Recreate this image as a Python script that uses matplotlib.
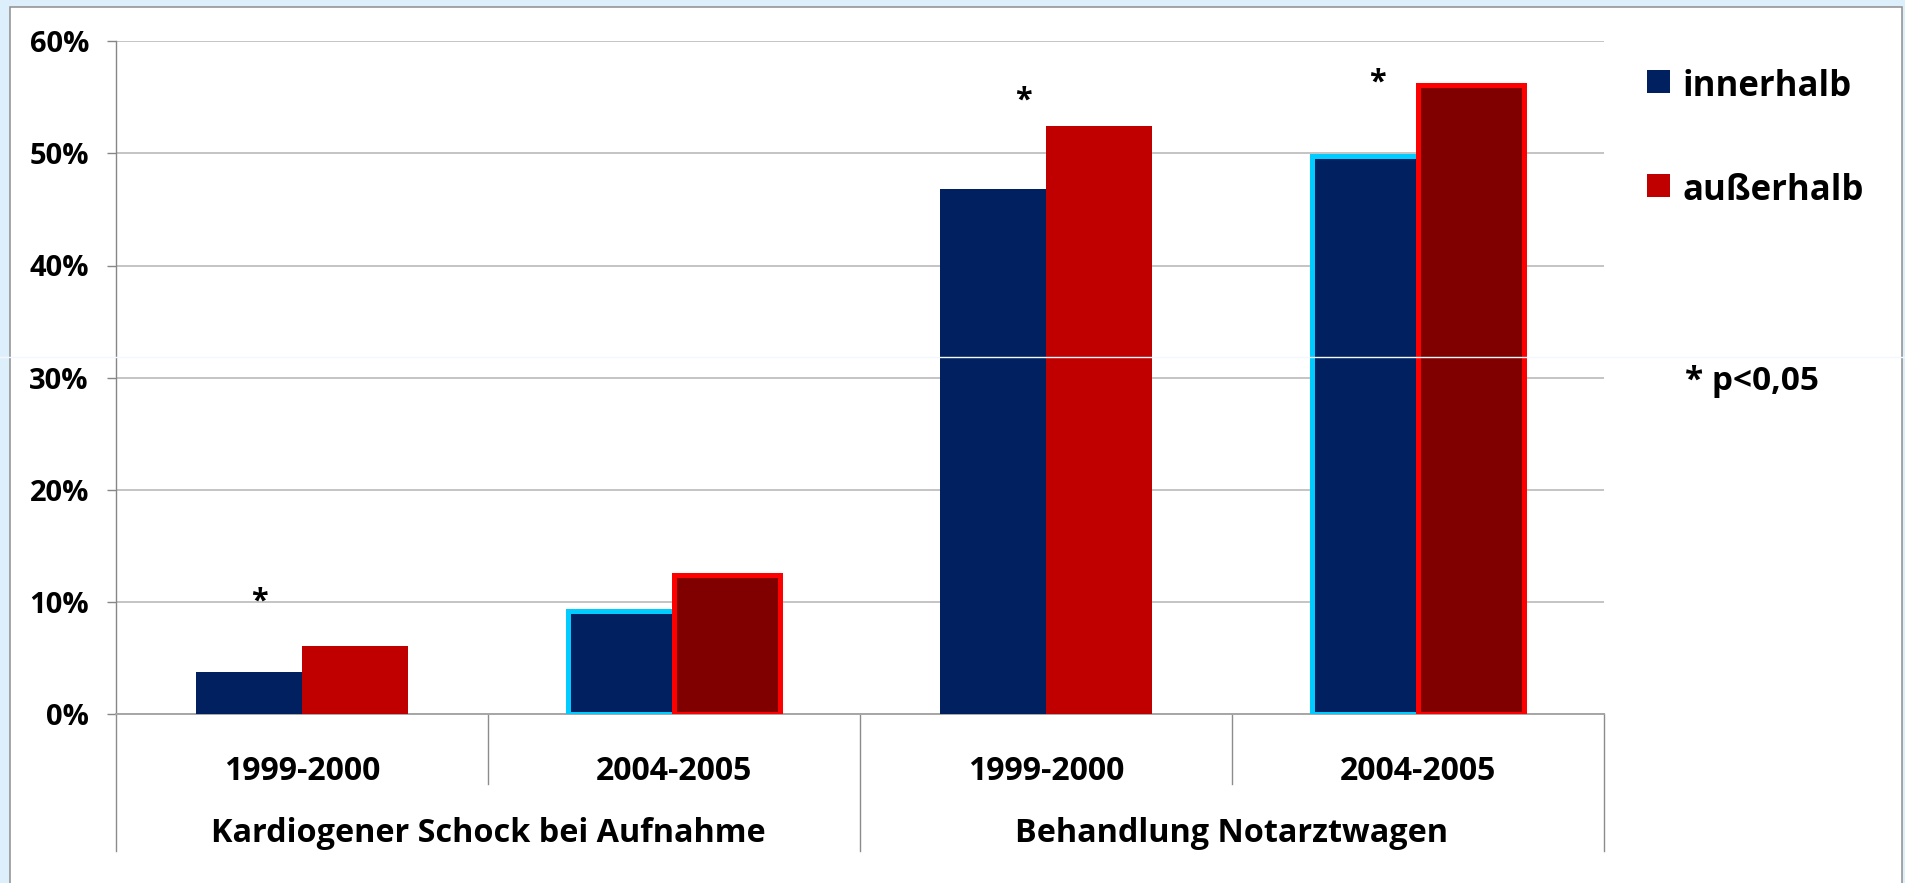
import matplotlib
matplotlib.use("Agg")
import matplotlib.pyplot as plt
import matplotlib.transforms as mtransforms
from matplotlib.patches import Rectangle
from matplotlib.lines import Line2D

# ---------------- data ----------------
periods = ["1999-2000", "2004-2005", "1999-2000", "2004-2005"]
groups = ["Kardiogener Schock bei Aufnahme", "Behandlung Notarztwagen"]
series_names = ["innerhalb", "außerhalb"]
innerhalb = [3.8, 9.2, 46.8, 49.8]
ausserhalb = [6.1, 12.4, 52.4, 56.1]
significant = [True, False, True, True]
sig_note = "* p<0,05"
yticks = [0, 10, 20, 30, 40, 50, 60]

# ---------------- style ----------------
W, H = 1906, 883
FONT = "Open Sans"
NAVY = "#002060"
RED = "#C00000"
DARKRED = "#800000"
CYAN = "#00CCFF"
BRIGHTRED = "#FF0000"
highlight = [False, True, False, True]
sig_x_off = [-0.115, 0, -0.06, -0.11]
sig_y = [10.6, 0, 55.3, 56.9]

fig = plt.figure(figsize=(W / 100, H / 100), dpi=100)
fig.patch.set_facecolor("#DDEFFB")

def fx(px):
    return px / W

def fy(py):
    return 1 - py / H

panel = Rectangle((fx(10), -0.05), fx(1902) - fx(10), fy(7) + 0.05,
                  transform=fig.transFigure, facecolor="white",
                  edgecolor="#8E8E8E", linewidth=1.1, zorder=-5)
fig.patches.append(panel)

y0, y60 = 714.3, 41.1
ax = fig.add_axes([fx(116), fy(y0), fx(1604) - fx(116), (y0 - y60) / H])
ax.set_facecolor("none")

bw = 106 / 372
x = list(range(len(periods)))
xin = [i - bw / 2 for i in x]
xout = [i + bw / 2 for i in x]

ax.bar(xin, innerhalb, bw, color=NAVY,
       edgecolor=[CYAN if h else NAVY for h in highlight],
       linewidth=[3.6 if h else 0 for h in highlight], zorder=3)
ax.bar(xout, ausserhalb, bw,
       color=[DARKRED if h else RED for h in highlight],
       edgecolor=[BRIGHTRED if h else RED for h in highlight],
       linewidth=[3.6 if h else 0 for h in highlight], zorder=4)

ax.set_xlim(-0.5, len(periods) - 0.5)
ax.set_ylim(0, 60)
ax.set_yticks(yticks)
ax.set_yticklabels([f"{v}%" for v in yticks], fontfamily=FONT,
                   fontweight="bold", fontsize=21)
ax.tick_params(axis="y", direction="out", length=6.5, width=1,
               color="#868686", pad=13)
ax.set_xticks([])
ax.yaxis.grid(True, color="#C4C4C4", linewidth=1.4)
ax.set_axisbelow(True)
for s in ["top", "right"]:
    ax.spines[s].set_visible(False)
ax.spines["left"].set_color("#868686")
ax.spines["left"].set_linewidth(1)
ax.spines["bottom"].set_color("#A6A6A6")
ax.spines["bottom"].set_linewidth(1.4)

trans = mtransforms.blended_transform_factory(ax.transData, ax.transAxes)
axh = y0 - y60

# category separators
for i in range(len(periods) + 1):
    xs = i - 0.5
    outer = (i % 2 == 0)
    ylow = -(851 - y0) / axh if outer else -(784 - y0) / axh
    ax.add_line(Line2D([xs, xs], [0, ylow], transform=trans, color="#8C8C8C",
                       linewidth=1, clip_on=False))

# period labels
for i, p in enumerate(periods):
    ax.text(i, -(780 - y0) / axh, p, transform=trans, ha="center",
            va="baseline", fontfamily=FONT, fontweight="bold", fontsize=23)

# group labels
for g, name in enumerate(groups):
    ax.text(2 * g + 0.5, -(842 - y0) / axh, name, transform=trans,
            ha="center", va="baseline", fontfamily=FONT,
            fontweight="bold", fontsize=23.3)

# significance asterisks
for i, s in enumerate(significant):
    if s:
        ax.annotate("*", xy=(i + sig_x_off[i], sig_y[i]), xytext=(0, -10.5),
                    textcoords="offset points", ha="center", va="baseline",
                    fontfamily=FONT, fontweight="bold", fontsize=22,
                    zorder=6)

# legend (manual, as in the original)
leg_colors = [NAVY, RED]
for k, (name, col) in enumerate(zip(series_names, leg_colors)):
    top = 70 + k * 104
    fig.patches.append(Rectangle((fx(1647), fy(top + 23)), fx(23), 23 / H,
                                 transform=fig.transFigure, facecolor=col,
                                 edgecolor="none", zorder=5))
    fig.text(fx(1683), fy(top + 26), name, ha="left", va="baseline",
             fontfamily=FONT, fontweight="bold", fontsize=25)

fig.text(fx(1685), fy(390), sig_note, ha="left", va="baseline",
         fontfamily=FONT, fontweight="bold", fontsize=24)

# faint seam line of the original screenshot
fig.add_artist(Line2D([0, 1], [fy(356.7), fy(356.7)], transform=fig.transFigure,
                      color="#F2F8FD", linewidth=1.0, zorder=20))

fig.savefig("out.png", dpi=100, facecolor=fig.get_facecolor())
